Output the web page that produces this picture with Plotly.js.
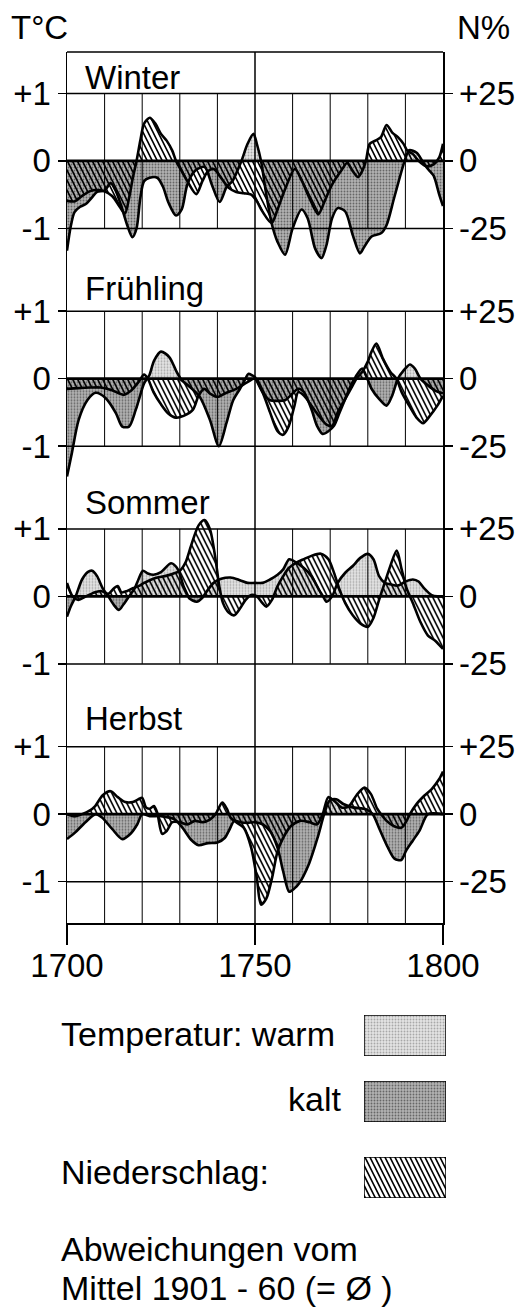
<!DOCTYPE html>
<html><head><meta charset="utf-8">
<script src="https://cdn.plot.ly/plotly-3.0.1.min.js"></script>
<style>html,body{margin:0;padding:0;background:#fff;}#chart{width:520px;height:1307px;}</style>
</head><body><div id="chart"></div>
<script>
// ================= DATA =================
const seasonNames = ['Winter', 'Frühling', 'Sommer', 'Herbst'];

// Temperature deviation (°C) and precipitation deviation (%)
const winterTempYears = [1700,1701,1702,1703.5,1705,1706.5,1708,1710,1711.6,1713,1714.5,1716,1717.4,1718.5,1719.5,1720.5,1722,1724,1725.5,1727,1729,1730.5,1732,1734,1736.6,1738.5,1740.6,1742.5,1744,1746.4,1748,1749.6,1750.5,1751.6,1753,1754.4,1756,1758,1760,1762.4,1764,1766,1767.7,1769,1770.5,1772,1774,1776,1777.9,1779,1781,1783.6,1785,1787,1789.8,1791,1793,1794.5,1796,1797.5,1799,1800];
const winterTemp = [-1.33,-0.97,-0.76,-0.68,-0.64,-0.55,-0.46,-0.44,-0.33,-0.45,-0.68,-0.95,-1.13,-1.0,-0.55,-0.3,-0.25,-0.25,-0.38,-0.62,-0.81,-0.72,-0.35,-0.15,-0.09,-0.35,-0.61,-0.38,-0.3,0.0,0.25,0.4,0.25,0.0,-0.5,-0.92,-1.2,-1.39,-1.0,-0.72,-0.85,-1.3,-1.44,-1.25,-0.85,-0.7,-0.75,-1.1,-1.37,-1.28,-1.12,-1.07,-0.95,-0.55,0.0,0.16,0.12,0.0,-0.12,-0.22,-0.5,-0.67];
const winterPrecYears = [1700,1702,1704,1706,1708,1710,1712,1714,1715.4,1716.5,1717.5,1718.5,1719.5,1720.5,1722,1723.5,1725,1726.5,1728,1729,1730.5,1732,1734.4,1736,1737.5,1739,1741,1743,1745,1747,1749,1750.5,1752,1754.4,1756,1758,1760.6,1762.5,1764.5,1766.8,1768.5,1770.5,1773,1774.5,1776,1777.4,1778.5,1779.5,1780.5,1782,1783.5,1785,1786.5,1788,1789.5,1790.5,1792,1793.5,1795.5,1797.5,1799,1800];
const winterPrec = [-14.8,-15,-13,-11.3,-10.8,-11.3,-13,-17,-19.5,-13.8,-6.3,0,7.5,13.8,16,13.8,10,7.5,3.8,0,-3.8,-7.5,-12.3,-7.5,-3.8,-3,-6.3,-10,-11.5,-12,-12.5,-15,-18.8,-23,-18,-10.5,-3,-7.5,-13.8,-19.8,-15,-8.8,-3.5,-0.8,-3.8,-6,-3.8,0,6.3,7.5,8.8,13.3,10.5,8.8,6.3,3.8,2.5,0,-2,-1.3,1.3,6.3];

const springTempYears = [1700,1701.3,1703.1,1705.4,1707.6,1710.3,1713,1714.7,1716.5,1718.3,1720.5,1721.9,1723.2,1725,1727.2,1729,1730.4,1732.6,1735.3,1738,1740.4,1742.4,1744.2,1746,1748.2,1750,1752,1754,1756,1758,1760,1761.5,1763,1765,1766.5,1768,1769.5,1771,1772.5,1774,1775.5,1777,1778.5,1779.5,1781,1783,1785,1786.5,1788,1789.5,1791.2,1792.5,1794,1796,1798,1800];
const springTemp = [-1.45,-1.1,-0.61,-0.32,-0.21,-0.29,-0.51,-0.71,-0.71,-0.46,-0.07,0.05,0.27,0.4,0.32,0.12,-0.02,-0.12,-0.27,-0.61,-1.0,-0.66,-0.32,-0.15,0.07,0.02,-0.2,-0.32,-0.33,-0.32,-0.22,-0.15,-0.2,-0.45,-0.7,-0.82,-0.78,-0.7,-0.5,-0.3,-0.1,0.05,0.15,0.05,-0.15,-0.3,-0.4,-0.25,0.0,0.12,0.21,0.15,0.0,-0.1,-0.18,-0.22];
const springPrecYears = [1700,1703,1706,1709,1712,1715,1717,1719,1720.5,1721.5,1723,1725,1727,1729,1731,1733.5,1735,1736.5,1738,1740,1742,1745,1748,1750,1752,1754,1756,1757.5,1759,1760.5,1761.5,1763,1765,1767,1769,1770.5,1772,1774,1776,1777,1778.5,1780,1781,1782.3,1784,1786,1787.6,1789,1791,1793,1794.7,1796.5,1798.5,1800];
const springPrec = [-3.8,-3.5,-3.3,-3.3,-4.3,-6,-4.5,-1.3,1.5,0,-5,-9.5,-13,-14.5,-13.8,-11.5,-6.3,-3.8,-5.5,-6.8,-5.5,-3.8,-1.3,0,-5,-12.5,-19.5,-20.8,-17.5,-10,-5,-6.3,-10,-13.8,-17,-17.5,-12.5,-7.5,-2.5,0,2.5,6.3,10,13,7.5,2.5,0,-5,-10,-14.5,-16.5,-13.8,-10,-6.3];

const summerTempYears = [1700,1701,1702.3,1704,1705.5,1706.7,1708,1709.5,1711,1712.5,1713.8,1715,1716.5,1718,1719,1720.2,1721.5,1723,1725,1727.7,1729.5,1731,1732.5,1734.5,1736,1737.5,1739,1741,1743.5,1746,1748,1750,1752,1754,1756,1757.5,1759.1,1761,1763,1765,1767,1769,1770.5,1772,1774,1776,1778,1780,1781.5,1783,1784.5,1786,1788,1790,1792,1793.5,1795,1797,1798.5,1800];
const summerTemp = [-0.3,-0.15,0,0.25,0.36,0.38,0.3,0.12,0,-0.13,-0.2,-0.12,0,0.12,0.25,0.38,0.34,0.32,0.36,0.49,0.4,0.15,-0.03,-0.08,-0.02,0.1,0.2,0.26,0.28,0.24,0.2,0.2,0.2,0.25,0.32,0.4,0.55,0.5,0.42,0.3,0.1,-0.08,0,0.2,0.35,0.45,0.57,0.63,0.55,0.3,0.2,0.18,0.16,0.22,0.25,0.22,0.12,0.02,0,0];
const summerPrecYears = [1700,1701.5,1703,1705,1707,1709,1711,1712.5,1713.5,1714.5,1716,1717.5,1719,1720.5,1722,1724,1726,1728,1730,1731.5,1733,1735,1736.6,1738,1739.5,1740.5,1741.5,1743,1744.5,1746,1747.5,1749,1750.5,1752,1753,1754.5,1756,1757.5,1759,1761,1763,1765,1767.5,1769.5,1771,1772.5,1774,1776,1778,1780,1781.5,1783,1784.5,1786,1787.7,1789,1790.3,1792,1794,1796,1798,1800];
const summerPrec = [5,0,-1.3,0,1.3,2,1,3,3.8,1.5,2,3,3.8,5,6,7,7.5,8.3,9.5,12.5,18.8,26.3,28.3,25,13.8,3.8,-2.5,-6,-7,-4.5,-1.3,0.5,0,-2.5,-3.8,-1.3,3.8,7.5,10.5,12.5,13.8,15,15.8,13.8,8.8,2.5,-2.5,-7,-10,-11.3,-8,-1.3,5,11.3,17,10,3,-2.5,-9.5,-14.5,-16.5,-19.5];

const autumnTempYears = [1700,1702.2,1704.9,1707.6,1709.3,1712,1714.7,1716.9,1718.7,1720,1722,1725,1728.7,1730.7,1733,1735,1737.5,1740,1742,1743.1,1744.5,1746,1748,1750,1752,1754,1756,1757.5,1759.1,1760.5,1761.8,1764.4,1766.7,1768.4,1769.8,1771.6,1773.5,1776,1779.6,1781.3,1783.1,1785.3,1787.1,1788.9,1790.2,1792,1793.8,1796,1800];
const autumnTemp = [-0.37,-0.27,-0.12,0,-0.05,-0.22,-0.37,-0.29,-0.15,0,-0.03,-0.03,-0.08,-0.2,-0.38,-0.46,-0.43,-0.42,-0.35,-0.24,-0.1,-0.12,-0.13,-0.12,-0.15,-0.25,-0.5,-0.85,-1.15,-1.1,-1.02,-0.73,-0.34,0,0.2,0.22,0.15,0.1,0.07,0,-0.22,-0.49,-0.66,-0.68,-0.54,-0.39,-0.24,0,0];
const autumnPrecYears = [1700,1702,1704,1706,1707.5,1709.5,1711.6,1713.5,1715.5,1717.5,1719,1720,1721,1722,1723.1,1724,1725.3,1726.5,1728,1730,1732,1734,1736,1738,1739.5,1741.3,1742.5,1743.5,1745,1747,1749,1750.5,1751.6,1753,1754.5,1756,1757.5,1759.5,1762,1764.5,1766.5,1768,1769.5,1771,1773,1775,1777,1779.1,1780.8,1782.5,1783.5,1785,1787,1789,1790.3,1791.2,1793,1795,1797,1799,1800];
const autumnPrec = [0,-0.8,0,1.3,3,7,8.5,6.3,4.5,4.5,5.5,6,2.5,2,3,0.5,-7.3,-6.3,-3,-3,-3.8,-2.5,-3,-2,0,4.3,2,-1.3,-3,-5,-12.5,-23.8,-33.5,-31.3,-23.8,-13.8,-8.8,-4.5,-2.5,-3,-3.8,0,6.3,5,2.5,3,7,9.8,7.5,2,0,-2.5,-4.5,-5,-2.5,0,3.8,6.8,9.3,13,15.8];

// Axis ticks and texts
const yearTicks = [1700, 1750, 1800];
const gridYears = [1710, 1720, 1730, 1740, 1760, 1770, 1780, 1790];
const tempTicks = [-1, 0, 1];
const tempTickText = ['-1', '0', '+1'];
const precTicks = [-25, 0, 25];
const precTickText = ['-25', '0', '+25'];
const tempUnit = 'T°C';
const precUnit = 'N%';
const legendLabels = ['Temperatur: warm', 'kalt', 'Niederschlag:'];
const legendValues = [1, 1, 1];
const noteLines = ['Abweichungen vom', 'Mittel 1901 - 60 (= Ø )'];

// ================= STYLE / GEOMETRY =================
const W = 520, H = 1307;
const PL = 67, PR = 443, PTOP = 52, PBOT = 923;
const PH = (PBOT - PTOP) / 4;
const UNIT = 67.5;               // px per 1 °C
const YR = PH / 2 / UNIT;        // half-range of each panel in °C
const RATIO = 25;                // 1 °C  <->  25 %
const FONT = 'Liberation Sans, Arial, Helvetica, sans-serif';
const FS = 33;
const fy = px => 1 - px / H;
const fx = px => px / W;

const warmPat = {shape: '.', size: 3, solidity: 0.3, fgcolor: '#a8a8a8', bgcolor: '#e4e4e4', fillmode: 'replace'};
const coldPat = {shape: '.', size: 3, solidity: 0.3, fgcolor: '#666666', bgcolor: '#b2b2b2', fillmode: 'replace'};
const HS = 10, HW = 1.8, HD = HS / 2;
const hatchPath = [-1, 0, 1].map(i => {
  const x0 = i * HD;
  return `M${x0},0L${x0 + HW},0L${x0 + HD + HW},${HS}L${x0 + HD},${HS}Z`;
}).join('');
const hatchPat = {path: hatchPath, size: HS, fgcolor: '#000', bgcolor: 'rgba(0,0,0,0)', fillmode: 'replace'};

function withCrossings(xs, ys) {
  const ax = [], ay = [];
  for (let i = 0; i < xs.length; i++) {
    ax.push(xs[i]); ay.push(ys[i]);
    if (i < xs.length - 1 && ys[i] * ys[i + 1] < 0) {
      const t = ys[i] / (ys[i] - ys[i + 1]);
      ax.push(xs[i] + t * (xs[i + 1] - xs[i])); ay.push(0);
    }
  }
  return {x: ax, y: ay};
}

const seasons = [
  {tx: winterTempYears, ty: winterTemp, nx: winterPrecYears, ny: winterPrec},
  {tx: springTempYears, ty: springTemp, nx: springPrecYears, ny: springPrec},
  {tx: summerTempYears, ty: summerTemp, nx: summerPrecYears, ny: summerPrec},
  {tx: autumnTempYears, ty: autumnTemp, nx: autumnPrecYears, ny: autumnPrec}
];
const titleFrac = [0.885, 0.912, 0.93, 0.94];

const traces = [];
const layout = {
  width: W, height: H,
  margin: {l: 0, r: 0, t: 0, b: 0, pad: 0},
  paper_bgcolor: '#fff', plot_bgcolor: 'rgba(0,0,0,0)',
  showlegend: false, bargap: 0,
  font: {family: FONT, size: FS, color: '#000'},
  xaxis: {
    domain: [fx(PL), fx(PR)], range: [1700, 1800], anchor: 'y4',
    tickvals: yearTicks, ticks: 'outside', ticklen: 20, tickwidth: 1.5, tickcolor: '#000',
    ticklabelstandoff: -7,
    showline: true, linewidth: 1.5, linecolor: '#000', showgrid: false, zeroline: false,
    tickfont: {size: FS}, fixedrange: true
  },
  shapes: [], annotations: []
};

const lineStyle = {color: '#000', width: 2.6, shape: 'spline', smoothing: 0.8};
const noLine = {color: 'rgba(0,0,0,0)', width: 0, shape: 'spline', smoothing: 0.8};

seasons.forEach((s, k) => {
  const yid = k === 0 ? 'y' : 'y' + (k + 1);
  const yKey = k === 0 ? 'yaxis' : 'yaxis' + (k + 1);
  const nid = 'y' + (k + 5);
  const top = PTOP + k * PH, bot = top + PH;
  layout[yKey] = {
    domain: [fy(bot), fy(top)], range: [-YR, YR], anchor: 'x',
    tickvals: tempTicks, ticktext: tempTickText, ticks: 'outside', ticklen: 8, tickwidth: 1.5, tickcolor: '#000',
    showline: true, linewidth: 1.5, linecolor: '#000', showgrid: false, zeroline: false,
    tickfont: {size: FS}, fixedrange: true
  };
  layout['yaxis' + (k + 5)] = {
    overlaying: yid, side: 'right', anchor: 'x', range: [-YR * RATIO, YR * RATIO],
    tickvals: precTicks, ticktext: precTickText, ticks: 'outside', ticklen: 8, tickwidth: 1.5, tickcolor: '#000',
    showline: true, linewidth: 1.5, linecolor: '#000', showgrid: false, zeroline: false,
    tickfont: {size: FS}, fixedrange: true
  };
  const t = withCrossings(s.tx, s.ty);
  traces.push({type: 'scatter', mode: 'lines', x: t.x, y: t.y.map(v => v >= 0 ? v : null), yaxis: yid,
    fill: 'tozeroy', fillpattern: warmPat, fillcolor: '#dcdcdc', line: noLine, hoverinfo: 'skip'});
  traces.push({type: 'scatter', mode: 'lines', x: t.x, y: t.y.map(v => v <= 0 ? v : null), yaxis: yid,
    fill: 'tozeroy', fillpattern: coldPat, fillcolor: '#a8a8a8', line: noLine, hoverinfo: 'skip'});
  traces.push({type: 'scatter', mode: 'lines', x: t.x, y: t.y, yaxis: yid, line: lineStyle, hoverinfo: 'skip'});
  traces.push({type: 'scatter', mode: 'lines', x: s.nx, y: s.ny, yaxis: nid,
    fill: 'tozeroy', fillpattern: hatchPat, fillcolor: 'rgba(0,0,0,0)', line: lineStyle, hoverinfo: 'skip'});

  // grid lines (drawn above the fills, like in the print)
  tempTicks.forEach(v => layout.shapes.push({type: 'line', layer: 'above', xref: 'x domain', yref: yid,
    x0: 0, x1: 1, y0: v, y1: v, line: {color: '#000', width: v === 0 ? 2.6 : 1.5}}));
  gridYears.forEach(yr => layout.shapes.push({type: 'line', layer: 'above', xref: 'x', yref: yid,
    x0: yr, x1: yr, y0: k === 3 ? -YR : -1, y1: 1, line: {color: '#000', width: 1}}));
  layout.annotations.push({text: seasonNames[k], xref: 'x domain', yref: yid + ' domain',
    x: (83 - PL) / (PR - PL), y: titleFrac[k], xanchor: 'left', yanchor: 'middle', showarrow: false,
    font: {size: FS}});
});

// full-height vertical line at 1750 and top frame
layout.shapes.push({type: 'line', layer: 'above', xref: 'x', yref: 'paper', x0: 1750, x1: 1750,
  y0: fy(PBOT), y1: fy(PTOP), line: {color: '#000', width: 1.5}});
layout.shapes.push({type: 'line', layer: 'above', xref: 'paper', yref: 'paper', x0: fx(PL), x1: fx(PR),
  y0: fy(PTOP), y1: fy(PTOP), line: {color: '#000', width: 1.5}});

// unit labels
layout.annotations.push({text: tempUnit, xref: 'paper', yref: 'paper', x: fx(9), y: fy(28), xanchor: 'left', yanchor: 'middle', showarrow: false, font: {size: FS}});
layout.annotations.push({text: precUnit, xref: 'paper', yref: 'paper', x: fx(455), y: fy(28), xanchor: 'left', yanchor: 'middle', showarrow: false, font: {size: FS}});

// legend
const legBoxes = [[1015, 1056], [1081, 1122], [1157, 1198]];
const legPats = [warmPat, coldPat, {path: hatchPath, size: HS, fgcolor: '#000', bgcolor: '#fff', fillmode: 'replace'}];
layout.xaxis2 = {domain: [fx(364), fx(446)], range: [-0.5, 0.5], anchor: 'y9', visible: false, fixedrange: true};
legBoxes.forEach((b, i) => {
  layout['yaxis' + (9 + i)] = {domain: [fy(b[1]), fy(b[0])], range: [0, 1], anchor: 'x2', visible: false, fixedrange: true};
  traces.push({type: 'bar', x: [0], y: [legendValues[i]], width: [1], xaxis: 'x2', yaxis: 'y' + (9 + i),
    cliponaxis: false, marker: {color: '#ccc', pattern: legPats[i], line: {color: '#000', width: 1.5}}, hoverinfo: 'skip'});
});
const legTextY = [1034, 1099, 1172];
layout.annotations.push({text: legendLabels[0], xref: 'paper', yref: 'paper', x: fx(59), y: fy(legTextY[0]), xanchor: 'left', yanchor: 'middle', showarrow: false, font: {size: 34}});
layout.annotations.push({text: legendLabels[1], xref: 'paper', yref: 'paper', x: fx(343), y: fy(legTextY[1]), xanchor: 'right', yanchor: 'middle', showarrow: false, font: {size: 34}});
layout.annotations.push({text: legendLabels[2], xref: 'paper', yref: 'paper', x: fx(59), y: fy(legTextY[2]), xanchor: 'left', yanchor: 'middle', showarrow: false, font: {size: 34}});
layout.annotations.push({text: noteLines[0], xref: 'paper', yref: 'paper', x: fx(59), y: fy(1249), xanchor: 'left', yanchor: 'middle', showarrow: false, font: {size: 34}});
layout.annotations.push({text: noteLines[1], xref: 'paper', yref: 'paper', x: fx(59), y: fy(1288), xanchor: 'left', yanchor: 'middle', showarrow: false, font: {size: 34}});

Plotly.newPlot('chart', traces, layout, {staticPlot: true, displayModeBar: false});
</script>
</body></html>
